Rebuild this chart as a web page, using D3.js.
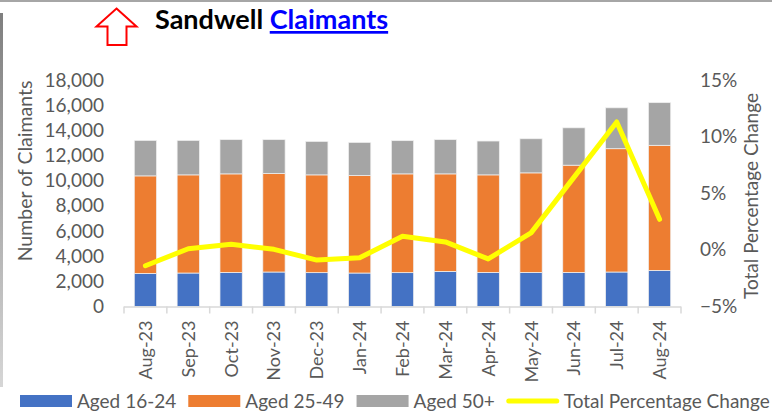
<!DOCTYPE html>
<html>
<head>
<meta charset="utf-8">
<script src="https://cdn.jsdelivr.net/npm/d3@7"></script>
<style>
  body { margin: 0; background: #fff; }
  text { font-family: "Lato", "Liberation Sans", sans-serif; }
</style>
</head>
<body>
<svg id="chart" width="772" height="412"></svg>
<script>
// values
var months = ["Aug-23","Sep-23","Oct-23","Nov-23","Dec-23","Jan-24","Feb-24","Mar-24","Apr-24","May-24","Jun-24","Jul-24","Aug-24"];
var aged16to24 = [2630,2660,2710,2740,2690,2660,2690,2790,2710,2710,2710,2740,2870];
var aged25to49 = [7750,7800,7830,7830,7770,7750,7850,7750,7750,7910,8520,9800,9940];
var aged50plus = [2820,2740,2720,2690,2660,2630,2640,2720,2690,2710,2970,3250,3390];
var pctChange = [-0.014,0.001,0.005,0.0005,-0.009,-0.007,0.012,0.007,-0.008,0.015,0.064,0.113,0.027];
var leftTicks = [0,2000,4000,6000,8000,10000,12000,14000,16000,18000];
var rightTicks = [-0.05,0,0.05,0.10,0.15];

var seriesNames = ["Aged 16-24","Aged 25-49","Aged 50+"];
var colors = ["#4472C4","#ED7D31","#A5A5A5"];
var lineColor = "#FFFF00";
var axisGrey = "#595959";

var svg = d3.select("#chart");

// frame bits
var grad = svg.append("defs").append("linearGradient")
    .attr("id","edge").attr("x1",0).attr("x2",0).attr("y1",0).attr("y2",1);
grad.append("stop").attr("offset","0%").attr("stop-color","#7f7f7f");
grad.append("stop").attr("offset","100%").attr("stop-color","#d6d6d6");
svg.append("rect").attr("x",0).attr("y",0).attr("width",772).attr("height",2).attr("fill","#a6a6a6");
svg.append("rect").attr("x",0).attr("y",13).attr("width",3).attr("height",374).attr("fill","url(#edge)");

// title with arrow
svg.append("polygon")
    .attr("points","116.5,8.5 136.5,26.5 126.5,26.5 126.5,45 107.5,45 107.5,26.5 96.5,26.5")
    .attr("fill","#fff").attr("stroke","#FF0000").attr("stroke-width",2);

var title = svg.append("text")
    .attr("x",155).attr("y",29)
    .style("font-size","27px").style("font-weight","bold");
title.append("tspan").attr("fill","#000").text("Sandwell ");
title.append("tspan").attr("fill","#0000FF").attr("text-decoration","underline").text("Claimants");

// scales
var x = d3.scaleBand()
    .domain(months)
    .range([124, 681])
    .paddingInner(0.48)
    .paddingOuter(0.24);

var yL = d3.scaleLinear().domain([0,18000]).range([306.5,80]);
var yR = d3.scaleLinear().domain([-0.05,0.15]).range([306.5,80]);

// stacked bars
var rows = months.map(function(m,i){
    return {month:m, "Aged 16-24":aged16to24[i], "Aged 25-49":aged25to49[i], "Aged 50+":aged50plus[i]};
});
var stack = d3.stack().keys(seriesNames)(rows);

svg.append("g").selectAll("g")
    .data(stack)
    .join("g")
    .attr("fill", function(d,i){ return colors[i]; })
  .selectAll("rect")
    .data(function(d){ return d; })
    .join("rect")
    .attr("x", function(d){ return x(d.data.month); })
    .attr("width", x.bandwidth())
    .attr("y", function(d){ return yL(d[1]); })
    .attr("height", function(d){ return yL(d[0]) - yL(d[1]); })
    .attr("stroke","#f0f0f0")
    .attr("stroke-width",0.75);

// x axis line and tick marks between categories
var xAxis = svg.append("g")
    .attr("transform","translate(0," + yL(0) + ")")
    .call(d3.axisBottom(x).tickSize(0).tickPadding(0));
xAxis.select(".domain").remove();
var gap = (x.step() - x.bandwidth())/2;
var bounds = months.map(function(m){ return x(m) - gap; }).concat([x(months[months.length-1]) + x.bandwidth() + gap]);
xAxis.append("line")
    .attr("x1", bounds[0]).attr("x2", bounds[bounds.length-1])
    .attr("y1",0.5).attr("y2",0.5)
    .attr("stroke","#d9d9d9").attr("stroke-width",1.5);
xAxis.selectAll(".bound")
    .data(bounds)
    .join("line")
    .attr("class","bound")
    .attr("x1", function(d){ return d; }).attr("x2", function(d){ return d; })
    .attr("y1",0).attr("y2",7)
    .attr("stroke","#d9d9d9").attr("stroke-width",1.5);
xAxis.selectAll(".tick text")
    .attr("transform","rotate(-90)")
    .attr("text-anchor","end")
    .attr("x",-14)
    .attr("y",0)
    .attr("dy","0.36em")
    .attr("fill",axisGrey)
    .style("font-size","18px")
    .style("font-family","Lato, sans-serif");

// left axis
var left = svg.append("g")
    .attr("transform","translate(104,0)")
    .call(d3.axisLeft(yL).tickValues(leftTicks).tickFormat(d3.format(",")).tickSize(0).tickPadding(0));
left.select(".domain").remove();
left.selectAll("text")
    .attr("fill",axisGrey)
    .style("font-size","19px")
    .style("font-family","Lato, sans-serif");

// right axis
var right = svg.append("g")
    .attr("transform","translate(700,0)")
    .call(d3.axisRight(yR).tickValues(rightTicks).tickFormat(d3.format(".0%")).tickSize(0).tickPadding(0));
right.select(".domain").remove();
right.selectAll("text")
    .attr("fill",axisGrey)
    .style("font-size","19px")
    .style("font-family","Lato, sans-serif");

// axis titles
svg.append("text")
    .attr("transform","translate(32,171) rotate(-90)")
    .attr("text-anchor","middle")
    .attr("fill",axisGrey)
    .style("font-size","19.5px")
    .text("Number of Claimants");

svg.append("text")
    .attr("transform","translate(758,196) rotate(-90)")
    .attr("text-anchor","middle")
    .attr("fill",axisGrey)
    .style("font-size","19px")
    .text("Total Percentage Change");

// percentage line
var line = d3.line()
    .x(function(d,i){ return x(months[i]) + x.bandwidth()/2; })
    .y(function(d){ return yR(d); });

svg.append("path")
    .datum(pctChange)
    .attr("d", line)
    .attr("fill","none")
    .attr("stroke",lineColor)
    .attr("stroke-width",5)
    .attr("stroke-linejoin","round")
    .attr("stroke-linecap","round");

// legend
var legendItems = seriesNames.map(function(n,i){ return {name:n, color:colors[i], type:"rect"}; })
    .concat([{name:"Total Percentage Change", color:lineColor, type:"line"}]);
var lx = 20;
var legend = svg.append("g");
legendItems.forEach(function(item){
    var g = legend.append("g");
    if (item.type === "rect") {
        g.append("rect").attr("x",lx).attr("y",395).attr("width",52).attr("height",12).attr("fill",item.color);
    } else {
        g.append("line").attr("x1",lx+2).attr("x2",lx+50).attr("y1",401).attr("y2",401)
            .attr("stroke",item.color).attr("stroke-width",5).attr("stroke-linecap","round");
    }
    var t = g.append("text")
        .attr("x",lx+57).attr("y",408)
        .attr("fill",axisGrey)
        .style("font-size","19px")
        .text(item.name);
    lx = lx + 57 + t.node().getComputedTextLength() + 12;
});
</script>
</body>
</html>
